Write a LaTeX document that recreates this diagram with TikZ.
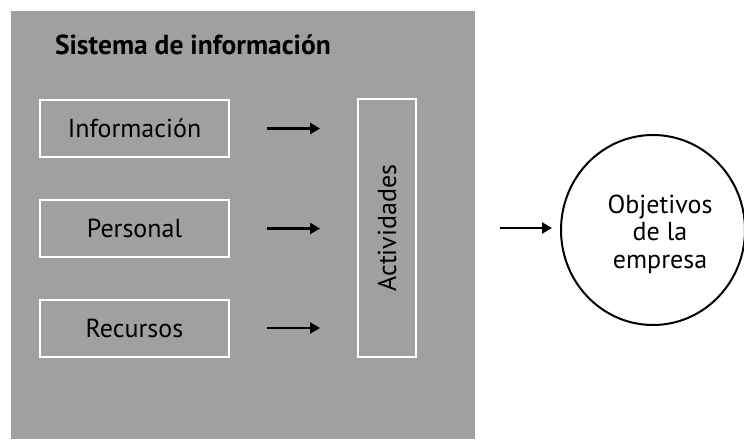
\documentclass[tikz,border=0pt]{standalone}
\usepackage{fontspec}
\setmainfont{PT Sans}
\usetikzlibrary{arrows.meta,shapes.geometric}
\definecolor{panelgray}{RGB}{160,160,160}
\begin{document}
\begin{tikzpicture}[x=1pt,y=-1pt,
  every node/.style={font=\fontsize{26}{27.5}\selectfont, inner sep=0pt, outer sep=0pt},
  itembox/.style={draw=white, line width=2pt, minimum width=189pt, minimum height=57pt,
    text height=18pt, text depth=0pt},
  arr/.style={line width=2.4pt, -{Triangle[length=10pt,width=11pt]}},
]
\useasboundingbox (0,0) rectangle (744,439);
\node[fill=panelgray, minimum width=464pt, minimum height=428pt, anchor=north west] (panel) at (11,11) {};
\node[anchor=base west, font=\fontsize{27.5}{30}\selectfont\bfseries] (title) at (55,54) {Sistema de información};
\node[itembox] (info) at (134.5,128.5) {Información};
\node[itembox] (pers) at (134.5,228.5) {Personal};
\node[itembox] (recu) at (134.5,328) {Recursos};
\node[draw=white, line width=2pt, minimum width=58pt, minimum height=258pt] (act) at (387,228) {\rotatebox{90}{Actividades}};
\node[draw=black, line width=2pt, ellipse, minimum width=184pt, minimum height=190pt] (obj) at (653,230) {};
\node[align=center, anchor=base] (objtxt) at (660,268) {Objetivos\\de la\\empresa};
\draw[arr, shorten <=38pt, shorten >=38pt] (info.east) -- (info.east -| act.west);
\draw[arr, shorten <=38pt, shorten >=38pt] (pers.east) -- (pers.east -| act.west);
\draw[arr, shorten <=38pt, shorten >=38pt] (recu.east) -- (recu.east -| act.west);
\draw[arr, shorten <=84pt, shorten >=9pt] (act.east) -- (act.east -| obj.west);
\end{tikzpicture}
\end{document}
